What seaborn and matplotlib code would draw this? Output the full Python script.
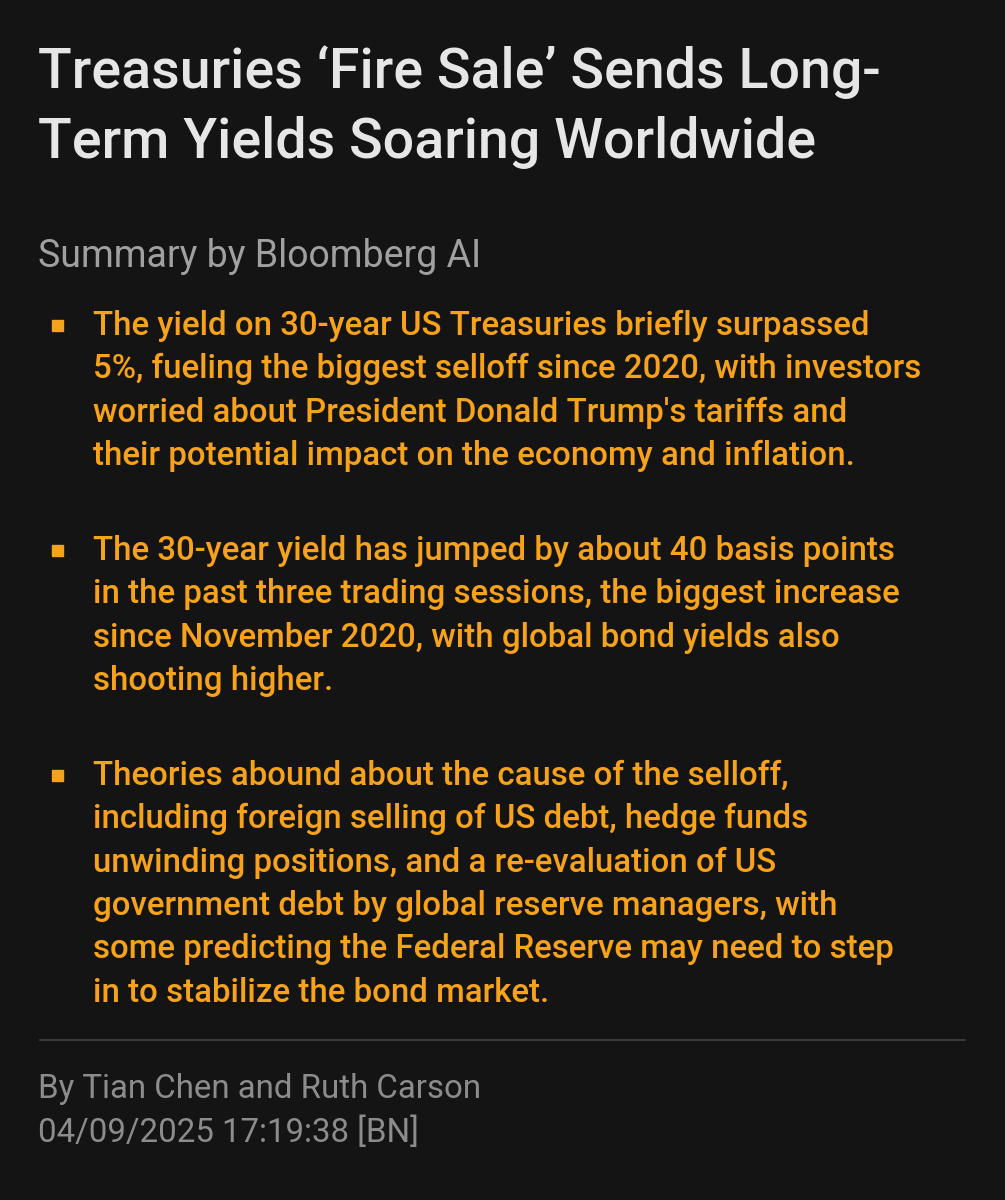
import matplotlib
matplotlib.use("Agg")
import matplotlib.pyplot as plt
import seaborn as sns
from matplotlib.patches import Rectangle

sns.set_theme(style="dark")
plt.rcParams['font.family'] = ['Roboto', 'DejaVu Sans']

title_lines = ["Treasuries \u2018Fire Sale\u2019 Sends Long-",
               "Term Yields Soaring Worldwide"]
subtitle = "Summary by Bloomberg AI"
bullets = [
    ["The yield on 30-year US Treasuries briefly surpassed",
     "5%, fueling the biggest selloff since 2020, with investors",
     "worried about President Donald Trump's tariffs and",
     "their potential impact on the economy and inflation."],
    ["The 30-year yield has jumped by about 40 basis points",
     "in the past three trading sessions, the biggest increase",
     "since November 2020, with global bond yields also",
     "shooting higher."],
    ["Theories abound about the cause of the selloff,",
     "including foreign selling of US debt, hedge funds",
     "unwinding positions, and a re-evaluation of US",
     "government debt by global reserve managers, with",
     "some predicting the Federal Reserve may need to step",
     "in to stabilize the bond market."],
]
byline = ["By Tian Chen and Ruth Carson", "04/09/2025 17:19:38 [BN]"]

W, H = 1005, 1200
bg = "#141414"
orange = "#f7a21b"

fig = plt.figure(figsize=(W / 100, H / 100), dpi=100, facecolor=bg)


def px(x, y):
    return x / W, 1 - y / H


for i, line in enumerate(title_lines):
    fig.text(*px(38, 88 + i * 70), line, color="#e6e6e6", fontsize=40,
             fontweight="medium", va="baseline")

fig.text(*px(38, 267), subtitle, color="#a0a0a0", fontsize=27, va="baseline")

starts = [335, 560, 785]
for start, lines in zip(starts, bullets):
    x0, y0 = px(52, start - 4)
    fig.patches.append(Rectangle((x0, y0), 11 / W, 11 / H, transform=fig.transFigure,
                                 color=orange, figure=fig))
    for j, line in enumerate(lines):
        fig.text(*px(93, start + j * 43.3), line, color=orange, fontsize=23.8,
                 fontweight="medium", va="baseline")

fig.add_artist(plt.Line2D([40 / W, 965 / W], [1 - 1040 / H] * 2, color="#3a3a3a", lw=1.5))

for i, line in enumerate(byline):
    fig.text(*px(38, 1098 + i * 44), line, color="#8c8c8c", fontsize=23.8, va="baseline")

fig.savefig("out.png", dpi=100, facecolor=bg)
